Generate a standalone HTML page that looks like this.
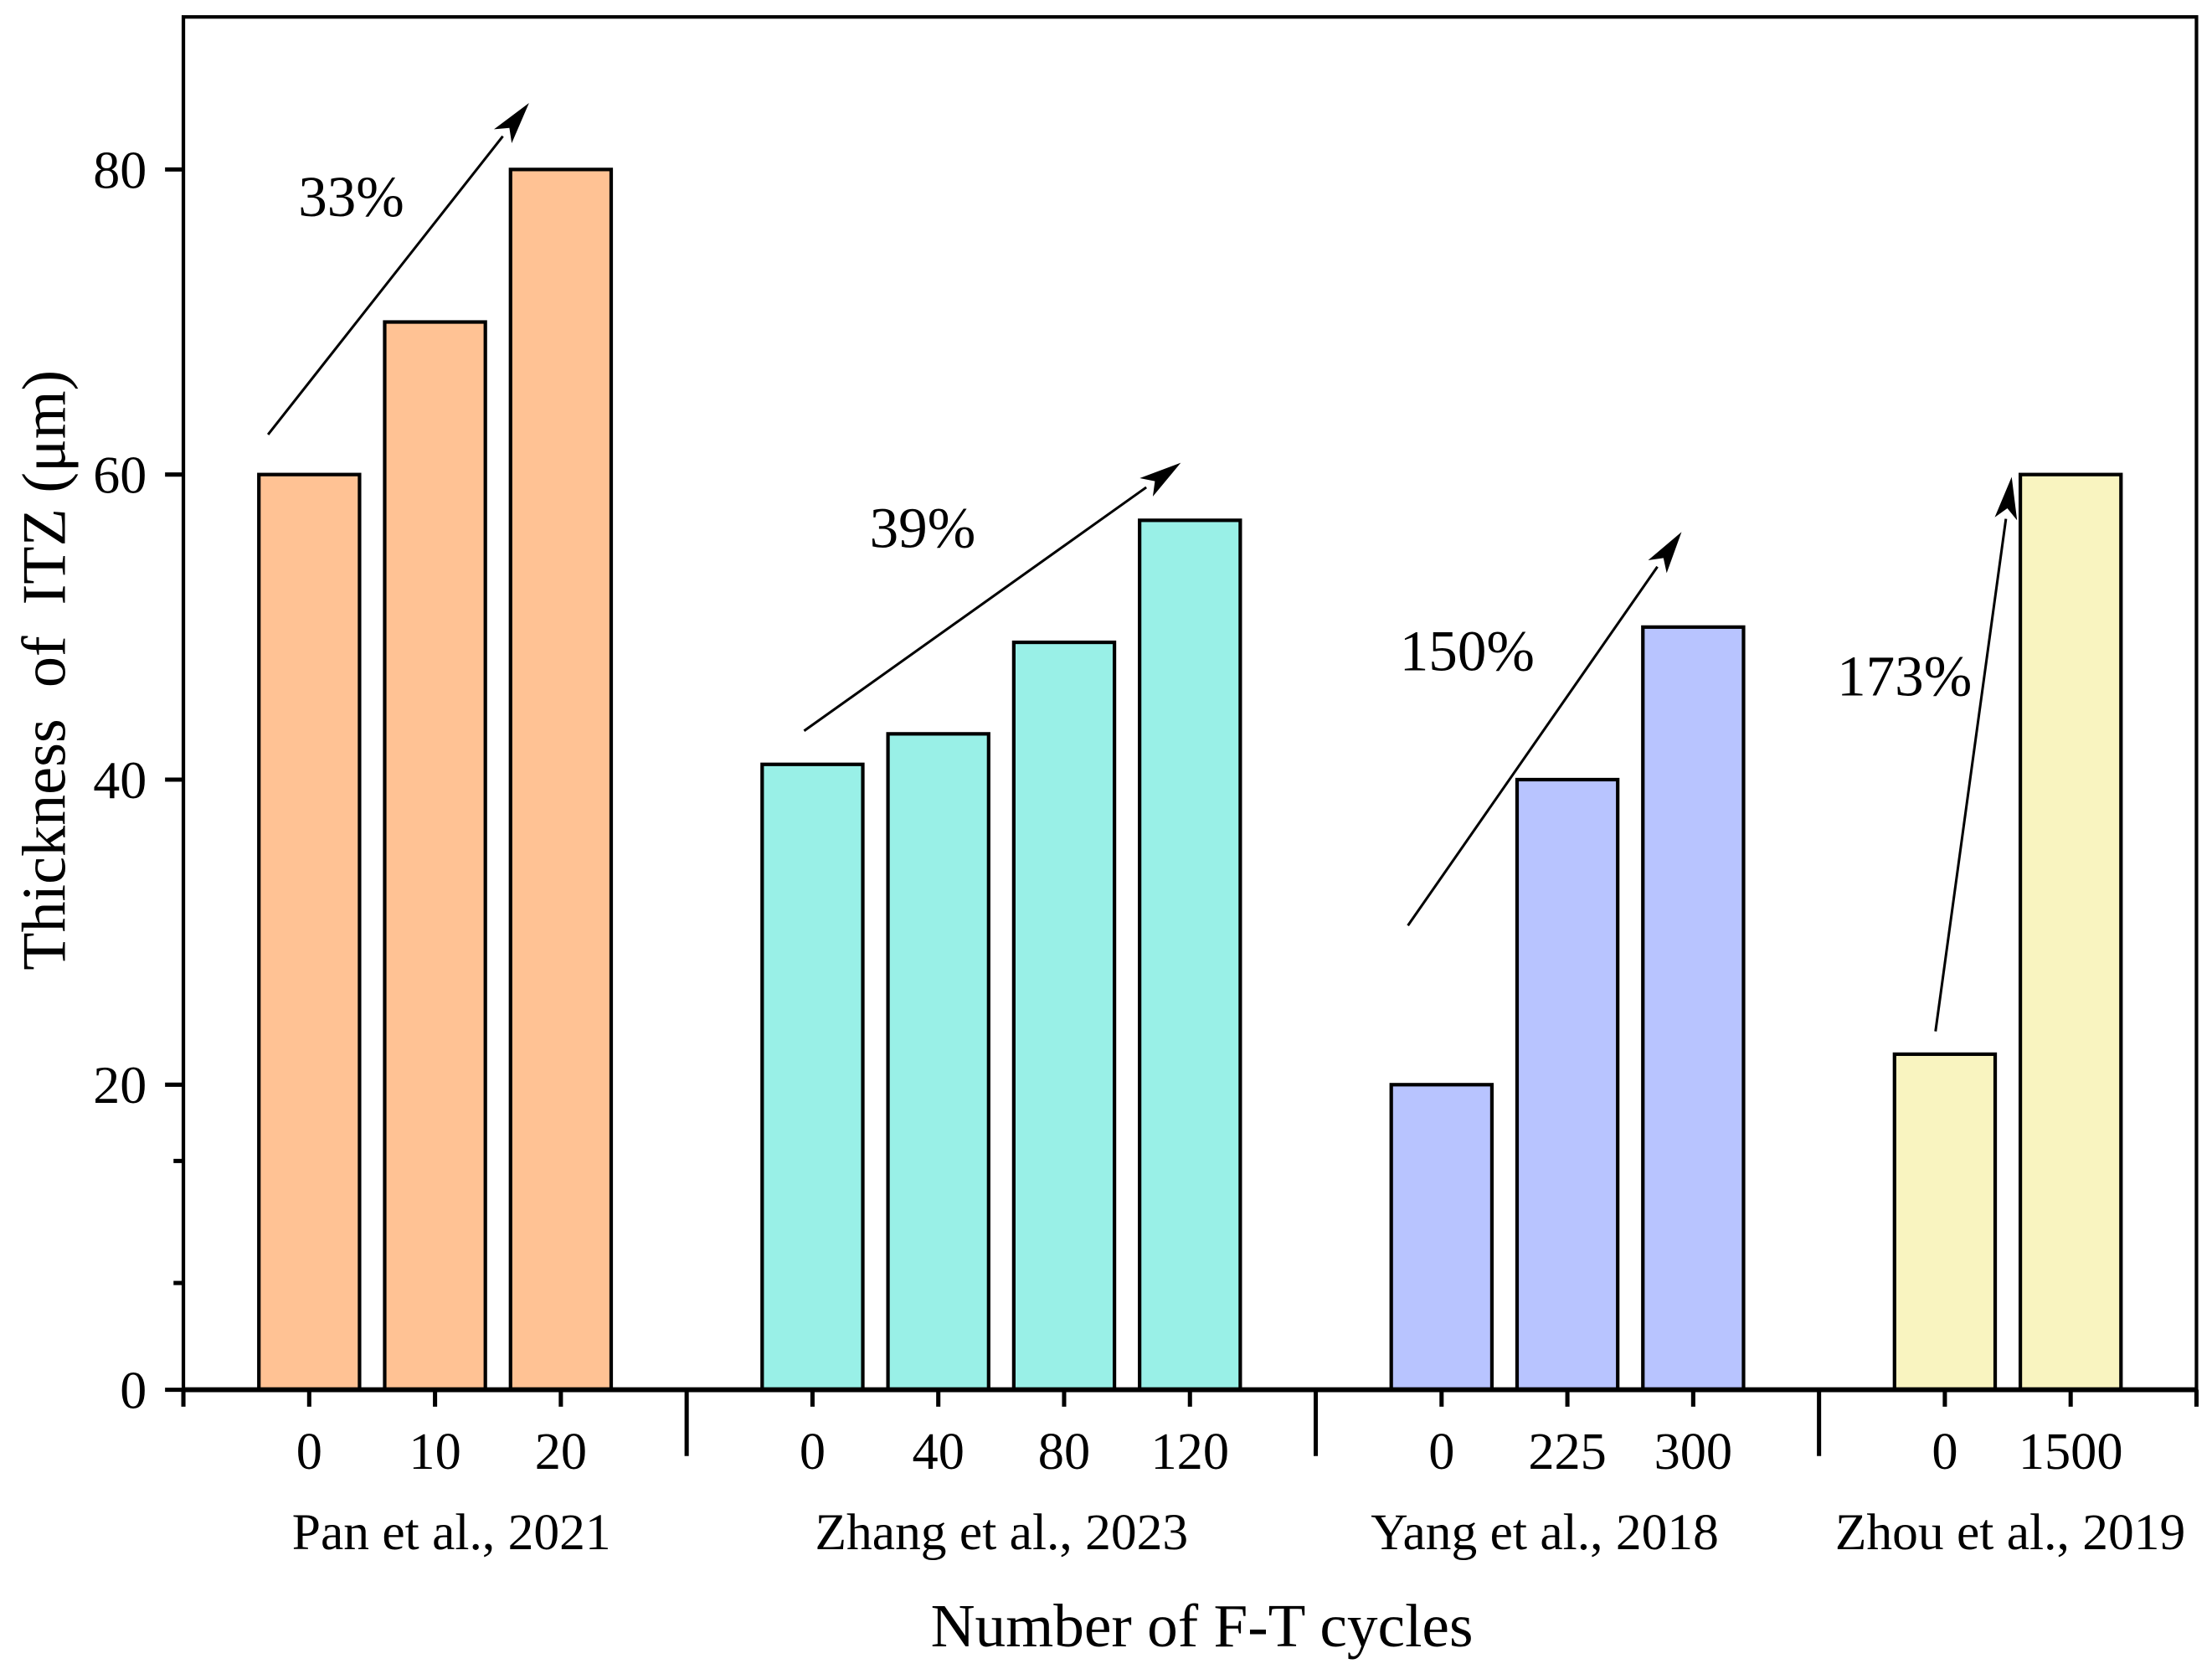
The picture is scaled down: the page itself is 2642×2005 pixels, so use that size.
<!DOCTYPE html>
<html><head><meta charset="utf-8">
<style>
html,body{margin:0;padding:0;background:#fff;}
svg{display:block;}
text{font-family:"Liberation Serif","DejaVu Serif",serif;fill:#000;}
</style></head>
<body>
<svg id="chart" width="2642" height="2005" viewBox="0 0 1568 1190" preserveAspectRatio="none" xmlns="http://www.w3.org/2000/svg">
<g id="marks"></g>
</svg>
<script>
// Data
const groupNames = ["Pan et al., 2021","Zhang et al., 2023","Yang et al., 2018","Zhou et al., 2019"];
const groupColors = ["#FFC294","#99F0E7","#B8C4FF","#F9F4C0"];
const cycles0 = ["0","10","20"];
const cycles1 = ["0","40","80","120"];
const cycles2 = ["0","225","300"];
const cycles3 = ["0","1500"];
const values0 = [60,70,80];
const values1 = [41,43,49,57];
const values2 = [20,40,50];
const values3 = [22,60];
const percentLabels = ["33%","39%","150%","173%"];
const yTicks = [0,20,40,60,80];
const yMinor = [7,15];

const cyclesAll=[cycles0,cycles1,cycles2,cycles3];
const valuesAll=[values0,values1,values2,values3];

const L=130,R=1557,T=12,B=985;
const xMin=-1,xMax=15,yMax=90;
function xs(i){return L+(i-xMin)/(xMax-xMin)*(R-L);}
function ys(v){return B-v/yMax*(B-T);}
const NS="http://www.w3.org/2000/svg";
const g=document.getElementById('marks');
function mk(tag,attrs,parent){const e=document.createElementNS(NS,tag);for(const k in attrs)e.setAttribute(k,attrs[k]);(parent||g).appendChild(e);return e;}

let idx=0; const seps=[];
valuesAll.forEach((vals,gi)=>{
  vals.forEach((v,bi)=>{
    const cx=xs(idx), w=xs(0.8)-xs(0);
    const r=mk('rect',{x:cx-w/2,y:ys(v),width:w,height:ys(0)-ys(v),fill:groupColors[gi],stroke:'#000','stroke-width':2.5});
    
    
    const t=mk('text',{x:cx,y:1041,'text-anchor':'middle','font-size':37});
    t.textContent=cyclesAll[gi][bi];
    
    
    const tk=mk('line',{x1:cx,y1:B,x2:cx,y2:997,stroke:'#000','stroke-width':3});
    
    
    idx++;
  });
  if(gi<valuesAll.length-1){seps.push(idx);idx++;}
});
seps.forEach(s=>{
  const l=mk('line',{x1:xs(s),y1:B,x2:xs(s),y2:1032,stroke:'#000','stroke-width':3});
  
  
});
[xMin,xMax].forEach(s=>{
  const l=mk('line',{x1:xs(s),y1:B,x2:xs(s),y2:997,stroke:'#000','stroke-width':3});
  
  
});
const gLabelX=[320,710,1095,1425];
groupNames.forEach((n,gi)=>{
  const t=mk('text',{x:gLabelX[gi],y:1098,'text-anchor':'middle','font-size':36.5});
  t.textContent=n;
  
  
});
yTicks.forEach(v=>{
  const l=mk('line',{x1:117,y1:ys(v),x2:L,y2:ys(v),stroke:'#000','stroke-width':3});
  
  
  const t=mk('text',{x:104,y:ys(v)+13,'text-anchor':'end','font-size':38});
  t.textContent=v;
  
  
});
yMinor.forEach(v=>{
  const l=mk('line',{x1:123,y1:ys(v),x2:L,y2:ys(v),stroke:'#000','stroke-width':3});
  
  
});
const fr=mk('rect',{x:L,y:T,width:R-L,height:B-T,fill:'none',stroke:'#000','stroke-width':2.5});


const xa=mk('line',{x1:L,y1:B,x2:R,y2:B,stroke:'#000','stroke-width':3.5});


const arrows=[[190,308,375,73],[570,518,837,328],[998,656,1192,377],[1372,731,1426,338]];
const pLab=[[249,153],[654,388],[1040,475],[1350,493]];
arrows.forEach((a,i)=>{
  const [x1,y1,x2,y2]=a; const dx=x2-x1,dy=y2-y1,len=Math.hypot(dx,dy),ux=dx/len,uy=dy/len;
  const hl=30,hw=8; const bx=x2-ux*hl,by=y2-uy*hl;
  const ln=mk('line',{x1:x1,y1:y1,x2:bx,y2:by,stroke:'#000','stroke-width':1.8});
  
  
  const hd=mk('polygon',{points:`${x2},${y2} ${bx-uy*hw},${by+ux*hw} ${x2-ux*hl*0.75},${y2-uy*hl*0.75} ${bx+uy*hw},${by-ux*hw}`,fill:'#000'});
  
  
  const t=mk('text',{x:pLab[i][0],y:pLab[i][1],'text-anchor':'middle','font-size':41});
  t.textContent=percentLabels[i];
  
  
});
const xt=mk('text',{x:852,y:1167,'text-anchor':'middle','font-size':43.5});
xt.textContent='Number of F-T cycles';


const yt=mk('text',{x:0,y:0,'text-anchor':'middle','font-size':44,transform:'translate(46,475) rotate(-90)'});
yt.textContent='Thickness\u00a0 of\u00a0 ITZ (\u03bcm)';


</script>
</body></html>
